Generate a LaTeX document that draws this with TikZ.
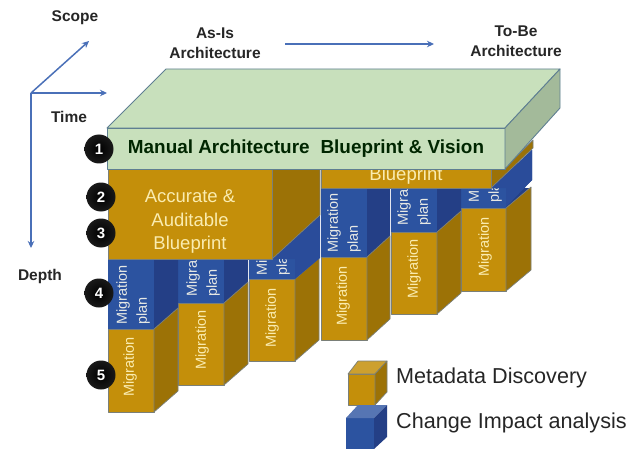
\documentclass[tikz,border=0pt]{standalone}
\usepackage{fontspec}
\setmainfont{Liberation Sans}
\definecolor{org}{HTML}{C48F0A}
\definecolor{orgd}{HTML}{9C7206}
\definecolor{blu}{HTML}{2C53A0}
\definecolor{blud}{HTML}{243F86}
\definecolor{blus}{HTML}{2A4C9A}
\definecolor{grn}{HTML}{C8E0BC}
\definecolor{grnd}{HTML}{A3BA9A}
\definecolor{edg}{HTML}{7A7F78}
\definecolor{edgg}{HTML}{5F7F92}
\definecolor{arr}{HTML}{4A70B8}
\definecolor{pale}{HTML}{FAECB0}
\definecolor{paleb}{HTML}{E6E8E4}
\definecolor{ink}{HTML}{262626}
\usetikzlibrary{arrows.meta}
\tikzset{
  face/.style={draw=edg,line width=.7pt,line join=round},
  slabface/.style={draw=edgg,line width=.9pt,line join=round},
  axisarrow/.style={draw=arr,line width=1.5pt,-{Stealth[length=7pt,width=6.5pt]}},
  headtext/.style={font=\fontsize{15.5}{20}\selectfont\bfseries,text=ink,align=center,inner sep=0pt},
  colword/.style={font=\fontsize{14.5}{20}\selectfont,text=pale,rotate=90,inner sep=0pt,align=left},
  planword/.style={colword,text=paleb,anchor=west},
  blockword/.style={font=\fontsize{18.5}{23.5}\selectfont,text=pale,align=center,inner sep=0pt},
  legendword/.style={font=\fontsize{21.6}{25}\selectfont,text=ink,anchor=west,inner sep=0pt},
  marker/.style={circle,minimum size=29pt,inner sep=0pt,inner color=black,outer color=black!90,text=white,font=\fontsize{15}{15}\selectfont\bfseries},
}
% xl xr xs ytop ymid ybot rise textx planbase
\newcommand\pillar[9]{%
  \fill[blu] (#1,#4) rectangle (#2,#5);
  \fill[blud] (#2,#4) -- (#3,#4) -- (#3,#5-#7) -- (#2,#5) -- cycle;
  \begin{scope}
    \clip (#1,#4) rectangle (#2,#5);
    \node[planword] at (#8,#9) {Migration\\plan};
  \end{scope}
  \draw[face,fill=org] (#1,#5) rectangle (#2,#6);
  \draw[face,fill=orgd] (#2,#5) -- (#3,#5-#7) -- (#3,#6-#7) -- (#2,#6) -- cycle;
}
\begin{document}
\begin{tikzpicture}[x=1pt,y=-1pt]
\useasboundingbox (0,0) rectangle (631,449);
\fill[white] (0,0) rectangle (631,449);
% axes
\coordinate (origin) at (31,93);
\coordinate (scopeend) at (89,41);
\coordinate (timeend) at (107,93);
\coordinate (depthend) at (31,248);
\coordinate (flowa) at (285,44);
\coordinate (flowb) at (434,44);
\draw[axisarrow] (origin) -- (scopeend);
\draw[axisarrow] (origin) -- (timeend);
\draw[axisarrow] (origin) -- (depthend);
\draw[axisarrow] (flowa) -- (flowb);
\node[headtext] (scope) at (75,18) {Scope};
\node[headtext] (time) at (69,117) {Time};
\node[headtext] (depth) at (40,276) {Depth};
\node[headtext] (asis) at (215,43) {As-Is\\Architecture};
\node[headtext] (tobe) at (516,41) {To-Be\\Architecture};
% right group
\fill[blus] (491,188) -- (532,150) -- (532,180) -- (506,207) -- (506,188) -- cycle;
\pillar{461}{506}{531}{188}{208}{291}{21}{485}{203}
\pillar{391}{437}{461}{188}{232}{314}{21}{414}{226}
\pillar{321}{367}{390}{188}{257}{340}{21}{344}{253}
\fill[blus] (491,188) -- (532,150) -- (532,180) -- (506,207) -- (506,188) -- cycle;
\node[colword] (mr1) at (485,247) {Migration};
\node[colword] (mr2) at (414,269) {Migration};
\node[colword] (mr3) at (343,296) {Migration};
\draw[face,fill=orgd] (491,188) -- (533,148) -- (533,140) -- (505,168) -- (491,168) -- cycle;
\draw[face,fill=org] (321,165) rectangle (491,188);
\node[blockword,anchor=base] (bpr) at (406,181) {Blueprint};
% left group
\pillar{249}{295}{319}{259}{279}{361}{21}{273}{276}
\pillar{178}{224}{248}{259}{303}{385}{21}{203}{297}
\pillar{108}{154}{178}{259}{329}{412}{21}{133}{325}
\fill[blus] (272,259) -- (320,215) -- (320,258) -- (295,279) -- (295,259) -- cycle;
\node[colword] (ml1) at (130,367) {Migration};
\node[colword] (ml2) at (202,340) {Migration};
\node[colword] (ml3) at (272,318) {Migration};
\draw[face,fill=orgd] (272,259) -- (320,215) -- (320,168) -- (272,168) -- cycle;
\draw[face,fill=org] (108,168) rectangle (272,259);
\node[blockword] (bpl) at (190,222) {Accurate \&\\Auditable\\Blueprint};
% slab
\draw[slabface,fill=grn] (107,128) -- (166,69) -- (560,69) -- (505,128) -- cycle;
\draw[slabface,fill=grn] (107,128) rectangle (505,169);
\draw[slabface,fill=grnd] (505,128) -- (560,69) -- (560,108) -- (505,169) -- cycle;
\node[font=\fontsize{18.9}{22}\selectfont\bfseries,text=black!85!green,inner sep=0pt] (slabtext) at (306,149) {Manual Architecture\hspace{.3em} Blueprint \& Vision};
% markers
\node[marker] (m1) at (99,149) {1};
\node[marker] (m2) at (101,197) {2};
\node[marker] (m3) at (101,233) {3};
\node[marker] (m4) at (99,293) {4};
\node[marker] (m5) at (101,375) {5};
% legend
\draw[face,fill=org] (348,374) rectangle (375,405);
\draw[face,fill=org!85!white] (348,374) -- (358,361) -- (387,361) -- (375,374) -- cycle;
\draw[face,fill=orgd] (375,374) -- (387,361) -- (387,392) -- (375,405) -- cycle;
\fill[blu] (346,418) rectangle (374,449);
\fill[blu!80!white] (346,418) -- (358,405) -- (387,405) -- (374,418) -- cycle;
\fill[blud] (374,418) -- (387,405) -- (387,437) -- (374,449) -- cycle;
\node[legendword] (lg1) at (396,378) {Metadata Discovery};
\node[legendword] (lg2) at (396,423) {Change Impact analysis};
\end{tikzpicture}
\end{document}
